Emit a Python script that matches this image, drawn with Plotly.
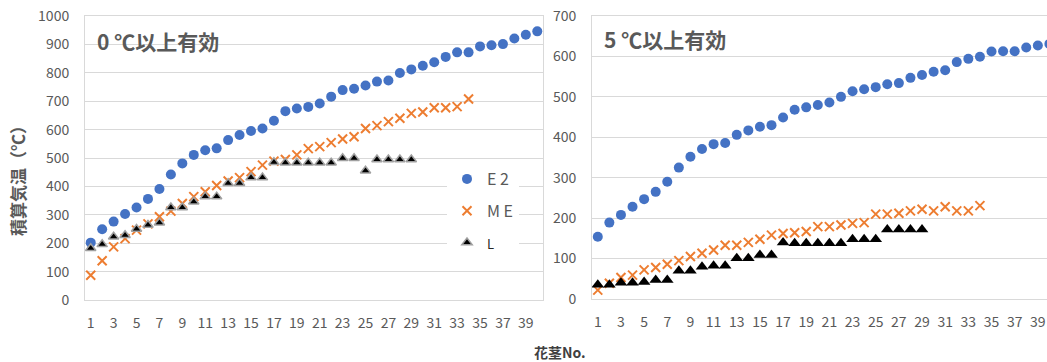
import plotly.graph_objects as go

W, H = 1047, 362

# stem numbers
stems = list(range(1, 41))

# accumulated temperature, base 0 °C
e2_base0 = [202, 249, 276, 303, 326, 356, 391, 442, 481, 511, 527, 534, 563, 581, 595,
            604, 631, 665, 674, 680, 692, 716, 739, 744, 755, 769, 773, 799, 812, 825,
            837, 856, 872, 872, 893, 897, 901, 921, 934, 946]
me_base0 = [87, 138, 187, 216, 246, 268, 293, 313, 340, 364, 381, 403, 419, 431, 452,
            475, 489, 495, 511, 533, 540, 554, 567, 575, 604, 614, 628, 640, 657, 662,
            677, 677, 681, 708]
l_base0 = [182, 196, 223, 228, 250, 264, 272, 326, 326, 346, 364, 364, 411, 411, 431,
           431, 485, 483, 483, 483, 483, 483, 499, 499, 455, 495, 495, 495, 495]

# accumulated temperature, base 5 °C
e2_base5 = [154, 189, 208, 228, 247, 265, 290, 325, 352, 371, 383, 386, 406, 417, 426,
            430, 449, 468, 474, 480, 486, 500, 514, 519, 524, 531, 534, 547, 554, 562,
            566, 586, 594, 599, 612, 613, 613, 622, 627, 631]
me_base5 = [22, 39, 53, 59, 72, 78, 86, 95, 105, 113, 121, 133, 133, 140, 148,
            158, 162, 164, 167, 179, 179, 183, 187, 189, 210, 210, 212, 218, 222, 218,
            228, 218, 218, 231]
l_base5 = [35, 35, 40, 40, 42, 47, 47, 70, 70, 80, 82, 82, 101, 101, 109,
           109, 140, 138, 138, 138, 138, 138, 148, 148, 148, 172, 172, 172, 172]

x_ticks = list(range(1, 40, 2))
panel_titles = ["0 ℃以上有効", "5 ℃以上有効"]

BLUE = "#4472C4"
ORANGE = "#ED7D31"
GRID = "#D9D9D9"
TXT = "#595959"
FONT = "Noto Sans CJK JP"

fig = go.Figure()

def add_panel(e2, me, l, xa, ya, first, tri_style):
    fig.add_trace(go.Scatter(
        x=stems[:len(e2)], y=e2, mode="markers", name="E 2",
        marker=dict(symbol="circle", size=10, color=BLUE),
        xaxis=xa, yaxis=ya, showlegend=first, legendgroup="e2"))
    fig.add_trace(go.Scatter(
        x=stems[:len(me)], y=me, mode="markers", name="M E",
        marker=dict(symbol="x-thin", size=9, color=ORANGE,
                    line=dict(color=ORANGE, width=2)),
        xaxis=xa, yaxis=ya, showlegend=first, legendgroup="me"))
    fig.add_trace(go.Scatter(
        x=stems[:len(l)], y=l, mode="markers",
        name="<span style='font-size:13px;color:#262626'>L</span>",
        marker=tri_style,
        xaxis=xa, yaxis=ya, showlegend=first, legendgroup="l"))

add_panel(e2_base0, me_base0, l_base0, "x", "y", True,
          dict(symbol="triangle-up", size=9, color="black",
               line=dict(color="#A0A0A0", width=1.5)))
add_panel(e2_base5, me_base5, l_base5, "x2", "y2", False,
          dict(symbol="triangle-up", size=11, color="black",
               line=dict(color="black", width=0)))

def px(x):
    return x / W

def py(y):
    return (H - y) / H

step_r = 11.58
x2_left = 592
x2_max = 0.5 + (W - x2_left) / step_r

tickfont = dict(family=FONT, size=14, color=TXT)
common = dict(automargin=False, ticks="", zeroline=False, linecolor=GRID,
              linewidth=1, tickfont=tickfont)

fig.update_layout(
    width=W, height=H,
    margin=dict(l=0, r=0, t=0, b=0, autoexpand=False),
    paper_bgcolor="white", plot_bgcolor="white",
    font=dict(family=FONT, color=TXT),
    xaxis=dict(domain=[px(85), px(543)], range=[0.5, 40.5],
               tickvals=x_ticks, showgrid=False,
               showline=True, mirror=True, ticklabelstandoff=10, **common),
    yaxis=dict(domain=[py(300), py(16)], range=[0, 1000], dtick=100,
               showgrid=True, gridcolor=GRID, gridwidth=1,
               showline=True, mirror=True, ticklabelstandoff=12, **common),
    xaxis2=dict(domain=[px(x2_left), 1.0], range=[0.5, x2_max], anchor="y2",
                tickvals=x_ticks, showgrid=False,
                showline=True, mirror=True, ticklabelstandoff=10, **common),
    yaxis2=dict(domain=[py(299), py(16)], range=[0, 700], dtick=100, anchor="x2",
                showgrid=True, gridcolor=GRID, gridwidth=1,
                showline=True, mirror=False, ticklabelstandoff=12, **common),
    legend=dict(x=px(447), y=py(162), xanchor="left", yanchor="top",
                bgcolor="white", borderwidth=0,
                font=dict(family=FONT, size=16, color=TXT),
                traceorder="grouped", tracegroupgap=8,
                itemwidth=30),
    showlegend=True,
)

annotations = [
    dict(text="<b>" + panel_titles[0] + "</b>", x=px(95), y=py(41),
         xanchor="left", yanchor="middle", font=dict(size=21, color=TXT, family=FONT)),
    dict(text="<b>" + panel_titles[1] + "</b>", x=px(602), y=py(39),
         xanchor="left", yanchor="middle", font=dict(size=21, color=TXT, family=FONT)),
    dict(text="<b>積算気温（℃）</b>", x=px(17), y=py(177), textangle=-90,
         xanchor="center", yanchor="middle", font=dict(size=17, color=TXT, family=FONT)),
    dict(text="<b>花茎No.</b>", x=px(560), y=py(352),
         xanchor="center", yanchor="middle", font=dict(size=14, color="#404040", family=FONT)),
]
for a in annotations:
    a.update(xref="paper", yref="paper", showarrow=False)
fig.update_layout(annotations=annotations)

fig.write_html("out.html")
